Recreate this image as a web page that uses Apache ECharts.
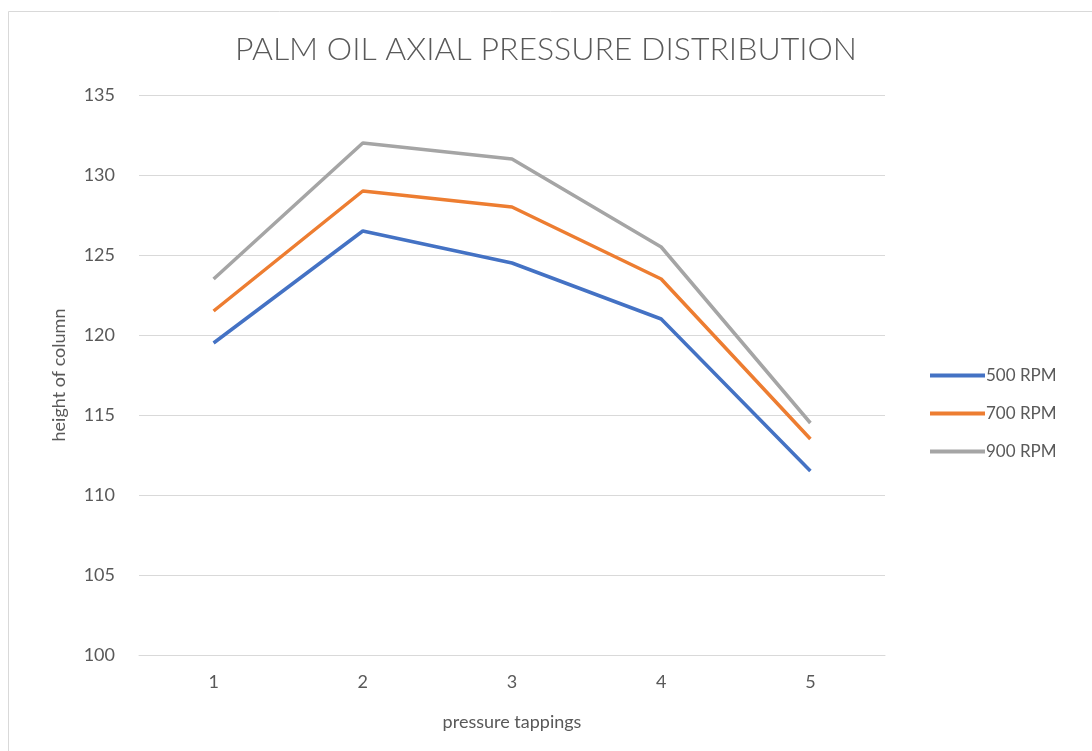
<!DOCTYPE html>
<html>
<head>
<meta charset="utf-8">
<script src="https://cdn.jsdelivr.net/npm/echarts@6/dist/echarts.min.js"></script>
<style>
html,body{margin:0;padding:0;background:#fff;}
#chart{width:1092px;height:751px;}
</style>
</head>
<body>
<div id="chart"></div>
<script>
const categories = ['1', '2', '3', '4', '5'];
const rpm500 = [119.5, 126.5, 124.5, 121, 111.5];
const rpm700 = [121.5, 129, 128, 123.5, 113.5];
const rpm900 = [123.5, 132, 131, 125.5, 114.5];
const seriesNames = ['500 RPM', '700 RPM', '900 RPM'];
const colors = ['#4472C4', '#ED7D31', '#A5A5A5'];
const font = 'Lato, "Open Sans", sans-serif';
const textColor = '#595959';

const chart = echarts.init(document.getElementById('chart'), null, {renderer: 'canvas'});
const mk = (name, data, color) => ({
  name: name, type: 'line', data: data,
  symbol: 'none', showSymbol: false,
  lineStyle: {color: color, width: 3.5},
  itemStyle: {color: color},
  animation: false
});
chart.setOption({
  animation: false,
  backgroundColor: '#fff',
  graphic: [{
    type: 'rect', left: 6, top: 9, silent: true,
    shape: {width: 1100, height: 800},
    style: {fill: 'none', stroke: '#d9d9d9', lineWidth: 1}
  }],
  title: {
    text: 'PALM OIL AXIAL PRESSURE DISTRIBUTION',
    left: 'center', top: 29,
    textStyle: {fontFamily: font, fontWeight: 300, fontSize: 32, color: textColor}
  },
  legend: {
    orient: 'vertical', left: 925, top: 362,
    icon: 'rect',
    itemWidth: 55, itemHeight: 4, itemGap: 21,
    textStyle: {fontFamily: font, fontSize: 17, color: textColor, padding: [0, 0, 0, -4]},
    data: seriesNames
  },
  grid: {left: 139, right: 207, top: 95, bottom: 96, containLabel: false},
  xAxis: {
    type: 'category', data: categories, boundaryGap: true,
    name: 'pressure tappings', nameLocation: 'middle', nameGap: 58,
    nameTextStyle: {fontFamily: font, fontSize: 18, color: textColor},
    axisLine: {show: true, lineStyle: {color: '#d9d9d9'}},
    axisTick: {show: false},
    axisLabel: {fontFamily: font, fontSize: 18, color: textColor, margin: 18}
  },
  yAxis: {
    type: 'value', min: 100, max: 135, interval: 5,
    name: 'height of column', nameLocation: 'middle', nameGap: 71, nameRotate: 90,
    nameTextStyle: {fontFamily: font, fontSize: 18, color: textColor},
    axisLine: {show: false}, axisTick: {show: false},
    axisLabel: {fontFamily: font, fontSize: 18, color: textColor, margin: 24},
    splitLine: {lineStyle: {color: '#d9d9d9', width: 1}}
  },
  series: [
    mk(seriesNames[0], rpm500, colors[0]),
    mk(seriesNames[1], rpm700, colors[1]),
    mk(seriesNames[2], rpm900, colors[2])
  ]
});
</script>
</body>
</html>
